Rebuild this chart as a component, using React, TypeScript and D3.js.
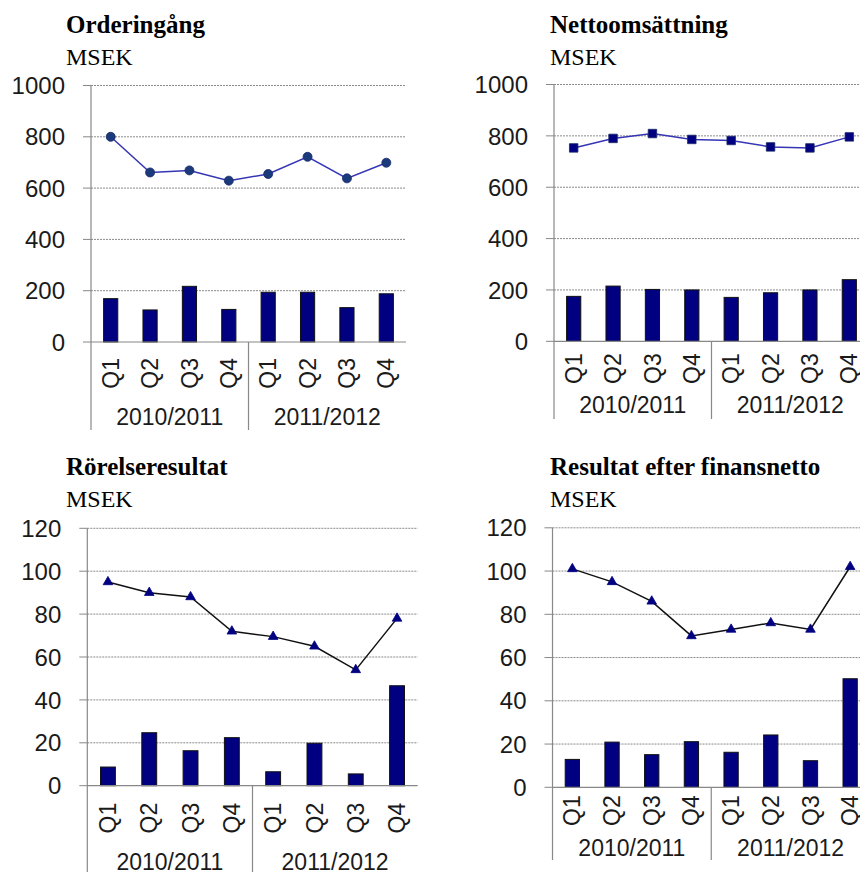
import React from 'react';
import * as d3 from 'd3';

const years = ['2010/2011', '2011/2012'];
const quarters = ['Q1', 'Q2', 'Q3', 'Q4'];
const periods = years.flatMap((y) => quarters.map((q) => `${y} ${q}`));

const orderBars = [169, 125, 217, 127, 194, 194, 134, 188];
const orderLine = [800, 661, 669, 629, 655, 722, 638, 699];
const salesBars = [175, 215, 202, 200, 171, 189, 200, 240];
const salesLine = [753, 790, 809, 786, 782, 757, 753, 796];
const ebitBars = [8.7, 24.7, 16.3, 22.4, 6.5, 19.8, 5.5, 46.6];
const ebitLine = [95, 90, 88, 72, 69.5, 65, 54, 78];
const ebtBars = [12.9, 20.9, 15.1, 21.1, 16.2, 24.2, 12.3, 50.2];
const ebtLine = [101, 95, 86, 70, 73, 76, 73, 102];

const ticksLarge = [0, 200, 400, 600, 800, 1000];
const ticksSmall = [0, 20, 40, 60, 80, 100, 120];

const titles = ['Orderingång', 'Nettoomsättning', 'Rörelseresultat', 'Resultat efter finansnetto'];
const unit = 'MSEK';

type Cfg = {
  title: string;
  bars: number[];
  line: number[];
  ticks: number[];
  marker: 'circle' | 'square' | 'triangle';
  lineColor: string;
  tx: number;
  ty: number;
  x0: number;
  x1: number;
  yTop: number;
  yZero: number;
  qOff: number;
  yearBase: number;
  axisBottom: number;
};

const panels: Cfg[] = [
  { title: titles[0], bars: orderBars, line: orderLine, ticks: ticksLarge, marker: 'circle', lineColor: '#3535b5',
    tx: 66, ty: 33, x0: 91, x1: 406, yTop: 85.5, yZero: 342, qOff: 16, yearBase: 425, axisBottom: 430 },
  { title: titles[1], bars: salesBars, line: salesLine, ticks: ticksLarge, marker: 'square', lineColor: '#3535b5',
    tx: 550, ty: 33, x0: 554, x1: 869, yTop: 84.5, yZero: 341.3, qOff: 12, yearBase: 413, axisBottom: 419 },
  { title: titles[2], bars: ebitBars, line: ebitLine, ticks: ticksSmall, marker: 'triangle', lineColor: '#111',
    tx: 66, ty: 475, x0: 87.3, x1: 417.7, yTop: 528.3, yZero: 785.7, qOff: 17, yearBase: 870, axisBottom: 872 },
  { title: titles[3], bars: ebtBars, line: ebtLine, ticks: ticksSmall, marker: 'triangle', lineColor: '#111',
    tx: 550, ty: 475, x0: 552.5, x1: 870, yTop: 527.8, yZero: 787.3, qOff: 8, yearBase: 856, axisBottom: 860 },
];

const sans = "'Liberation Sans', Arial, sans-serif";
const serif = "'Liberation Serif', 'Times New Roman', serif";

function Panel({ c }: { c: Cfg }) {
  const x = d3.scalePoint<string>().domain(periods).range([c.x0, c.x1]).padding(0.5);
  const y = d3
    .scaleLinear()
    .domain([0, c.ticks[c.ticks.length - 1]])
    .range([c.yZero, c.yTop]);
  const step = x.step();
  const bw = step * 0.36;
  const lineGen = d3
    .line<number>()
    .x((_, i) => x(periods[i]) as number)
    .y((d) => y(d));
  const symType = c.marker === 'circle' ? d3.symbolCircle : c.marker === 'square' ? d3.symbolSquare : d3.symbolTriangle;
  const symSize = c.marker === 'circle' ? 64 : c.marker === 'square' ? 72 : 40;
  const sym = d3.symbol().type(symType).size(symSize)() as string;
  const sepX = ((x(periods[3]) as number) + (x(periods[4]) as number)) / 2;
  const markerFill = c.marker === 'circle' ? '#1a3a7c' : '#000080';

  return (
    <g>
      <text x={c.tx} y={c.ty} fontFamily={serif} fontWeight="bold" fontSize={25} fill="#000">
        {c.title}
      </text>
      <text x={c.tx} y={c.ty + 32} fontFamily={serif} fontSize={24} fill="#000">
        {unit}
      </text>
      {c.ticks.map((t) => (
        <g key={t}>
          {t > 0 && (
            <line x1={c.x0} x2={c.x1} y1={y(t)} y2={y(t)} stroke="#8a8a8a" strokeWidth={1} strokeDasharray="2 1" />
          )}
          <line x1={c.x0 - 8} x2={c.x0} y1={y(t)} y2={y(t)} stroke="#888" strokeWidth={1} />
          <text x={c.x0 - 26} y={y(t)} dy="0.36em" textAnchor="end" fontFamily={sans} fontSize={24} fill="#1a1a1a">
            {t}
          </text>
        </g>
      ))}
      {c.bars.map((v, i) => (
        <rect
          key={i}
          x={(x(periods[i]) as number) - bw / 2}
          y={y(v)}
          width={bw}
          height={c.yZero - y(v)}
          fill="#000080"
          stroke="#111"
          strokeWidth={1}
        />
      ))}
      <line x1={c.x0} x2={c.x1} y1={c.yZero} y2={c.yZero} stroke="#888" strokeWidth={1.2} />
      <line x1={c.x0} x2={c.x0} y1={c.yTop} y2={c.axisBottom} stroke="#888" strokeWidth={1.2} />
      <line x1={sepX} x2={sepX} y1={c.yZero} y2={c.axisBottom} stroke="#888" strokeWidth={1.2} />
      <path d={lineGen(c.line) as string} fill="none" stroke={c.lineColor} strokeWidth={1.5} />
      {c.line.map((v, i) => (
        <path
          key={i}
          d={sym}
          transform={`translate(${x(periods[i])},${y(v)})`}
          fill={markerFill}
          stroke={c.marker === 'triangle' ? '#000080' : '#1a2a6a'}
          strokeWidth={0.8}
        />
      ))}
      {periods.map((p, i) => (
        <text
          key={p}
          transform={`translate(${x(p)},${c.yZero + c.qOff}) rotate(-90)`}
          dy="0.35em"
          textAnchor="end"
          fontFamily={sans}
          fontSize={23}
          fill="#1a1a1a"
        >
          {quarters[i % 4]}
        </text>
      ))}
      {years.map((yr, j) => {
        const cx = d3.mean(periods.slice(j * 4, j * 4 + 4).map((p) => x(p) as number)) as number;
        return (
          <text key={yr} x={cx} y={c.yearBase} textAnchor="middle" fontFamily={sans} fontSize={23} fill="#1a1a1a">
            {yr}
          </text>
        );
      })}
    </g>
  );
}

export default function App() {
  return (
    <svg
      width={860}
      height={872}
      viewBox="0 0 860 872"
      style={{ position: 'absolute', left: 0, top: 0, background: '#fff' }}
    >
      <rect width={860} height={872} fill="#fff" />
      {panels.map((c, i) => (
        <Panel key={i} c={c} />
      ))}
    </svg>
  );
}
